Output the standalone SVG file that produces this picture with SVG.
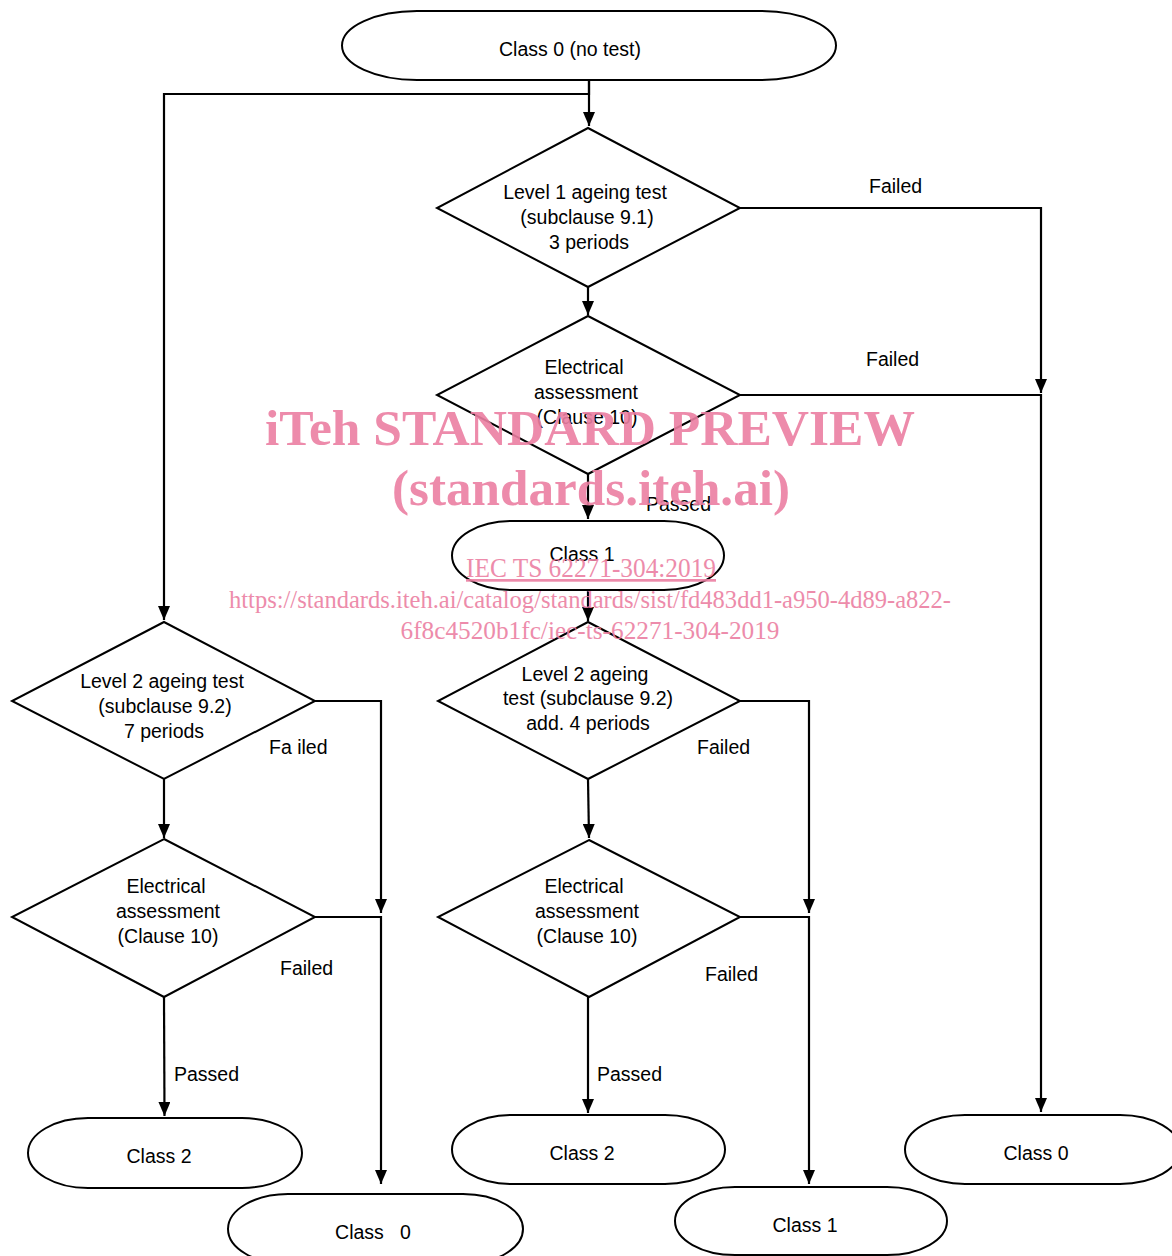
<svg xmlns="http://www.w3.org/2000/svg" width="1172" height="1256" viewBox="0 0 1172 1256">
<defs>
<marker id="arr" viewBox="0 0 14 12" refX="14" refY="6" markerWidth="14" markerHeight="12" markerUnits="userSpaceOnUse" orient="auto">
<path d="M0,0 L14,6 L0,12 Z" fill="#000"/>
</marker>
<style>
.shape{fill:#fff;stroke:#000;stroke-width:2}
.t{font-family:"Liberation Sans",Arial,sans-serif;font-size:19.5px;fill:#000;text-anchor:middle}
.lbl{font-family:"Liberation Sans",Arial,sans-serif;font-size:19.5px;fill:#000}
.c{fill:none;stroke:#000;stroke-width:2.2}
.wm{font-family:"Liberation Serif","Times New Roman",serif;fill:#ec7fa2;text-anchor:middle}
</style>
</defs>
<rect width="1172" height="1256" fill="#fff"/>

<g id="connectors">
<path class="c" d="M589,80 V94 H164 V620" marker-end="url(#arr)"/>
<path class="c" d="M589,80 V126" marker-end="url(#arr)"/>
<path class="c" d="M588,287 V315" marker-end="url(#arr)"/>
<path class="c" d="M740,208 H1041 V393" marker-end="url(#arr)"/>
<path class="c" d="M740,395 H1041 V1112" marker-end="url(#arr)"/>
<path class="c" d="M588,474 V519" marker-end="url(#arr)"/>
<path class="c" d="M588,590 V621" marker-end="url(#arr)"/>
<path class="c" d="M740,701 H809 V913" marker-end="url(#arr)"/>
<path class="c" d="M588,779 L589,838" marker-end="url(#arr)"/>
<path class="c" d="M740,917 H809 V1184" marker-end="url(#arr)"/>
<path class="c" d="M588,997 V1113" marker-end="url(#arr)"/>
<path class="c" d="M315,701 H381 V913" marker-end="url(#arr)"/>
<path class="c" d="M164,779 V838" marker-end="url(#arr)"/>
<path class="c" d="M315,917 H381 V1184" marker-end="url(#arr)"/>
<path class="c" d="M164,997 L164.5,1116" marker-end="url(#arr)"/>
<text class="lbl" x="869" y="193">Failed</text>
<text class="lbl" x="866" y="366">Failed</text>
<text class="lbl" x="646" y="511">Passed</text>
<text class="lbl" x="697" y="754">Failed</text>
<text class="lbl" x="705" y="981">Failed</text>
<text class="lbl" x="597" y="1081">Passed</text>
<text class="lbl" x="269" y="754">Fa iled</text>
<text class="lbl" x="280" y="975">Failed</text>
<text class="lbl" x="174" y="1081">Passed</text>
</g>

<g id="start">
<rect class="shape" x="342" y="11" width="494" height="69" rx="75" ry="34.5"/>
<text class="t" x="570" y="56">Class 0 (no test)</text>
</g>

<g id="level1">
<polygon class="shape" points="588,128 740,208 588,287 437,208"/>
<text class="t" x="585" y="199">Level 1 ageing test</text>
<text class="t" x="587" y="224">(subclause 9.1)</text>
<text class="t" x="589" y="249">3 periods</text>
</g>

<g id="elec1">
<polygon class="shape" points="588,316 740,395 588,474 437,395"/>
<text class="t" x="584" y="374">Electrical</text>
<text class="t" x="586" y="399">assessment</text>
<text class="t" x="587" y="424">(Clause 10)</text>
</g>

<g id="class1a">
<rect class="shape" x="452" y="521" width="272" height="69" rx="60" ry="34.5"/>
<text class="t" x="582" y="561">Class 1</text>
</g>

<g id="level2b">
<polygon class="shape" points="588,622 740,701 588,779 438,701"/>
<text class="t" x="585" y="681">Level 2 ageing</text>
<text class="t" x="588" y="705">test (subclause 9.2)</text>
<text class="t" x="588" y="730">add. 4 periods</text>
</g>

<g id="elec3">
<polygon class="shape" points="589,840 740,917 589,997 438,917"/>
<text class="t" x="584" y="893">Electrical</text>
<text class="t" x="587" y="918">assessment</text>
<text class="t" x="587" y="943">(Clause 10)</text>
</g>

<g id="class2b">
<rect class="shape" x="452" y="1115" width="273" height="69" rx="60" ry="34.5"/>
<text class="t" x="582" y="1160">Class 2</text>
</g>

<g id="class1b">
<rect class="shape" x="675" y="1187" width="272" height="68" rx="60" ry="34"/>
<text class="t" x="805" y="1232">Class 1</text>
</g>

<g id="class0b">
<rect class="shape" x="905" y="1115" width="275" height="69" rx="60" ry="34.5"/>
<text class="t" x="1036" y="1160">Class 0</text>
</g>

<g id="level2a">
<polygon class="shape" points="164,622 315,701 164,779 12,701"/>
<text class="t" x="162" y="688">Level 2 ageing test</text>
<text class="t" x="165" y="713">(subclause 9.2)</text>
<text class="t" x="164" y="738">7 periods</text>
</g>

<g id="elec2">
<polygon class="shape" points="164,839 315,917 164,997 12,917"/>
<text class="t" x="166" y="893">Electrical</text>
<text class="t" x="168" y="918">assessment</text>
<text class="t" x="168" y="943">(Clause 10)</text>
</g>

<g id="class2a">
<rect class="shape" x="28" y="1118" width="274" height="70" rx="60" ry="35"/>
<text class="t" x="159" y="1163">Class 2</text>
</g>

<g id="class0a">
<rect class="shape" x="228" y="1194" width="295" height="70" rx="60" ry="35"/>
<text class="t" x="373" y="1239" xml:space="preserve">Class   0</text>
</g>

<g id="watermark" opacity="0.9">
<text class="wm" x="590" y="445" font-size="50" font-weight="bold" textLength="650" lengthAdjust="spacingAndGlyphs">iTeh STANDARD PREVIEW</text>
<text class="wm" x="591" y="505" font-size="50" font-weight="bold" textLength="398" lengthAdjust="spacingAndGlyphs">(standards.iteh.ai)</text>
<text class="wm" x="591" y="577" font-size="27" text-decoration="underline" textLength="250" lengthAdjust="spacingAndGlyphs">IEC TS 62271-304:2019</text>
<text class="wm" x="590" y="608" font-size="25" textLength="722" lengthAdjust="spacingAndGlyphs">https://standards.iteh.ai/catalog/standards/sist/fd483dd1-a950-4d89-a822-</text>
<text class="wm" x="590" y="639" font-size="25" textLength="379" lengthAdjust="spacingAndGlyphs">6f8c4520b1fc/iec-ts-62271-304-2019</text>
</g>
</svg>
